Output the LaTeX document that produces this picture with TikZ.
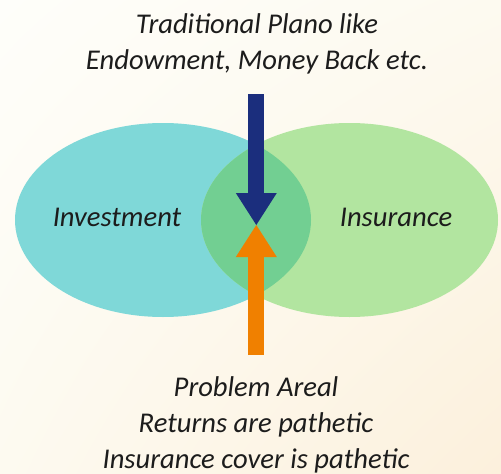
\documentclass[tikz,border=0pt]{standalone}
\usepackage{fontspec}
\setmainfont{Carlito}
\usepackage{xcolor}
\usetikzlibrary{arrows.meta,shadings}

\definecolor{investcol}{HTML}{7FD8D8}
\definecolor{insurecol}{HTML}{B2E5A0}
\definecolor{bothcol}{HTML}{72CF92}
\definecolor{plancol}{HTML}{1B2E7D}
\definecolor{problemcol}{HTML}{F08000}
\definecolor{inkcol}{HTML}{1C1C1C}
\definecolor{bgtop}{HTML}{FEFEFA}
\definecolor{bgmid}{HTML}{FDFAF0}
\definecolor{bgbot}{HTML}{FCF0DC}

\begin{document}
\begin{tikzpicture}[x=1pt,y=-1pt,
    lbl/.style={text=inkcol,font=\fontsize{28.6}{36}\selectfont\itshape,inner sep=0pt},
    push/.style={line width=16pt,-{Triangle[length=32pt,width=41pt,line width=0pt]}}]
    \useasboundingbox (0,0) rectangle (501,474);
    \shade[upper left=bgtop,upper right=bgmid,lower left=bgmid,lower right=bgbot]
        (0,0) rectangle (501,474);
    % the two sets and their overlap
    \fill[investcol] (163,220) ellipse [x radius=148,y radius=97];
    \fill[insurecol] (349.5,220) ellipse [x radius=148.5,y radius=97];
    \begin{scope}
        \clip (163,220) ellipse [x radius=148,y radius=97];
        \fill[bothcol] (349.5,220) ellipse [x radius=148.5,y radius=97];
    \end{scope}
    \node[lbl,anchor=base] (invest) at (117,226.5) {Investment};
    \node[lbl,anchor=base] (insure) at (396,226.5) {Insurance};
    % base of a multi-line node sits on its last line
    \node[lbl,anchor=base,align=center] (plans) at (257,69.3)
        {Traditional Plano like\\Endowment, Money Back etc.};
    \node[lbl,anchor=base,align=center] (problem) at (256,468.3)
        {Problem Areal\\Returns are pathetic\\Insurance cover is pathetic};
    \coordinate (planstart) at (256.3,94.3);
    \coordinate (probstart) at (256.3,355);
    \coordinate (meet) at (256.3,225);
    \draw[push,plancol] (planstart) -- (meet);
    \draw[push,problemcol] (probstart) -- (meet);
\end{tikzpicture}
\end{document}
